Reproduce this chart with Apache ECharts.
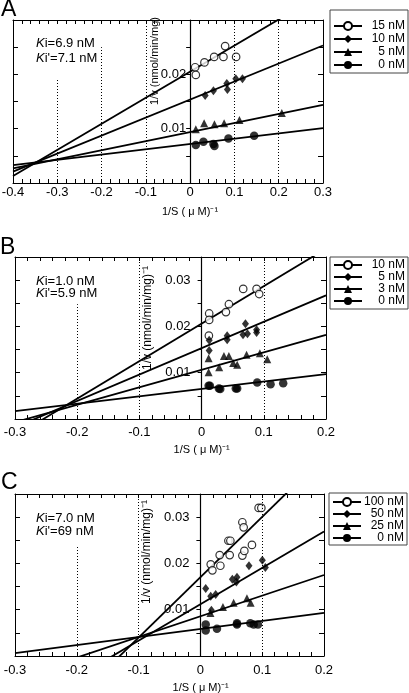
<!DOCTYPE html>
<html><head><meta charset="utf-8">
<script src="https://cdn.jsdelivr.net/npm/echarts@6/dist/echarts.min.js"></script>
<style>html,body{margin:0;padding:0;background:#fff}#c{width:409px;height:693px}</style>
</head><body><div id="c"></div><script>
// ---------- Panel A ----------
const A_names = ['15 nM', '10 nM', '5 nM', '0 nM'];
const A_pts_15 = [[0.0113,0.0213],[0.0128,0.0199],[0.0323,0.0222],[0.0542,0.0232],[0.0752,0.0232],[0.0790,0.0252],[0.1038,0.0232]];
const A_pts_10 = [[0.0339,0.0161],[0.0526,0.0170],[0.0828,0.0183],[0.0842,0.0172],[0.1031,0.0192],[0.1181,0.0192]];
const A_pts_5  = [[0.0128,0.0099],[0.0316,0.0110],[0.0549,0.0108],[0.0767,0.0110],[0.1113,0.0116],[0.2070,0.0129]];
const A_pts_0  = [[0.0128,0.0070],[0.0300,0.0076],[0.0526,0.0072],[0.0549,0.0068],[0.0865,0.0082],[0.1445,0.0087]];
const A_fit_15 = [[-0.4,0.0013],[0.3,0.0349]];
const A_fit_10 = [[-0.4,0.0021],[0.3,0.0253]];
const A_fit_5  = [[-0.4,0.0027],[0.3,0.0144]];
const A_fit_0  = [[-0.4,0.0033],[0.3,0.0101]];
const A_xTicks = ['-0.4','-0.3','-0.2','-0.1','0','0.1','0.2','0.3'];
const A_yTickVals = [0.01, 0.02];
const A_yTicks = ['0.01','0.02'];
const A_guideX = [-0.3, -0.2, -0.1, 0.1, 0.2];
const A_guideTop = [0.019, 0.025, 0.03, 0.03, 0.03];
const A_Ki = ['6.9 nM','7.1 nM'];

// ---------- Panel B ----------
const B_names = ['10 nM', '5 nM', '3 nM', '0 nM'];
const B_pts_10 = [[0.0122,0.0228],[0.0122,0.0214],[0.0117,0.0180],[0.0391,0.0231],[0.0439,0.0248],[0.0669,0.0281],[0.0884,0.0281],[0.0926,0.0270]];
const B_pts_5  = [[0.0122,0.0170],[0.0122,0.0148],[0.0411,0.0180],[0.0411,0.0171],[0.0705,0.0206],[0.0666,0.0182],[0.0737,0.0184],[0.0884,0.0193],[0.0884,0.0187]];
const B_pts_3  = [[0.0113,0.0131],[0.0113,0.0101],[0.0283,0.0112],[0.0359,0.0136],[0.0439,0.0136],[0.0508,0.0121],[0.0572,0.0117],[0.0723,0.0139],[0.0937,0.0142],[0.1055,0.0129]];
const B_pts_0  = [[0.0113,0.0072],[0.0133,0.0072],[0.0278,0.0066],[0.0300,0.0065],[0.0550,0.0066],[0.0572,0.0066],[0.0894,0.0079],[0.1109,0.0075],[0.1312,0.0077]];
const B_fit_10 = [[-0.3,-0.0037],[0.2,0.0368]];
const B_fit_5  = [[-0.3,-0.0018],[0.2,0.0267]];
const B_fit_3  = [[-0.3,-0.0007],[0.2,0.0182]];
const B_fit_0  = [[-0.3,0.0017],[0.2,0.0097]];
const B_xTicks = ['-0.3','-0.2','-0.1','0','0.1','0.2'];
const B_yTickVals = [0.01, 0.02, 0.03];
const B_yTicks = ['0.01','0.02','0.03'];
const B_guideX = [-0.2, -0.1, 0.1];
const B_guideTop = [0.0248, 0.035, 0.035];
const B_Ki = ['1.0 nM','5.9 nM'];

// ---------- Panel C ----------
const C_names = ['100 nM', '50 nM', '25 nM', '0 nM'];
const C_pts_100 = [[0.0167,0.0198],[0.0194,0.0185],[0.0312,0.0218],[0.0323,0.0195],[0.0453,0.0249],[0.0485,0.0249],[0.0474,0.0218],[0.0679,0.0289],[0.0700,0.0278],[0.0679,0.0217],[0.0711,0.0227],[0.0834,0.0240],[0.0942,0.0320],[0.0986,0.0320]];
const C_pts_50  = [[0.0086,0.0146],[0.0167,0.0129],[0.0178,0.0099],[0.0247,0.0133],[0.0517,0.0166],[0.0582,0.0160],[0.0592,0.0170],[0.0786,0.0195],[0.1002,0.0207],[0.1051,0.0191]];
const C_pts_25  = [[0.0162,0.0093],[0.0365,0.0106],[0.0538,0.0115],[0.0753,0.0125],[0.0813,0.0115]];
const C_pts_0   = [[0.0086,0.0068],[0.0086,0.0055],[0.0268,0.0059],[0.0592,0.0071],[0.0592,0.0068],[0.0808,0.0071],[0.0862,0.0068],[0.0931,0.0068]];
const C_fit_100 = [[-0.3,-0.0221],[0.2,0.0431]];
const C_fit_50  = [[-0.3,-0.0124],[0.2,0.0269]];
const C_fit_25  = [[-0.3,-0.0048],[0.2,0.0175]];
const C_fit_0   = [[-0.3,0.0006],[0.2,0.0093]];
const C_xTicks = ['-0.3','-0.2','-0.1','0','0.1','0.2'];
const C_yTickVals = [0.01, 0.02, 0.03];
const C_yTicks = ['0.01','0.02','0.03'];
const C_guideX = [-0.2, -0.1, 0.1];
const C_guideTop = [0.0236, 0.035, 0.035];
const C_Ki = ['7.0 nM','69 nM'];

const FONT = '"Liberation Sans", Arial, Helvetica, sans-serif';
const BLACK = '#000';

const panels = [
  {letter:'A', grid:{left:13, top:20, width:310, height:163}, xMin:-0.4, xMax:0.3, yMax:0.03,
   xTicks:A_xTicks, yTickVals:A_yTickVals, yTicks:A_yTicks, names:A_names,
   pts:[A_pts_15,A_pts_10,A_pts_5,A_pts_0], fits:[A_fit_15,A_fit_10,A_fit_5,A_fit_0],
   guideX:A_guideX, guideTop:A_guideTop, Ki:A_Ki,
   xLabelMargin:3, yLabelMargin:4,
   legend:{left:330, top:10, padding:[10,3,2,3], itemGap:1},
   letterPos:[1,10], kiPos:[36,43.3,58.3], yTitle:{x:155, y:61, size:11, text:'1/v (nmol/min/mg)'},
   xTitle:{x:190, y:211.5}},
  {letter:'B', grid:{left:15, top:257, width:311, height:162}, xMin:-0.3, xMax:0.2, yMax:0.035,
   xTicks:B_xTicks, yTickVals:B_yTickVals, yTicks:B_yTicks, names:B_names,
   pts:[B_pts_10,B_pts_5,B_pts_3,B_pts_0], fits:[B_fit_10,B_fit_5,B_fit_3,B_fit_0],
   guideX:B_guideX, guideTop:B_guideTop, Ki:B_Ki,
   xLabelMargin:7, yLabelMargin:11,
   legend:{left:330, top:257, padding:[2,3,2,3], itemGap:0},
   letterPos:[0,247.5], kiPos:[36,281,293], yTitle:{x:147.7, y:318, size:12, text:'1/v (nmol/min/mg)\u207B\u00B9'},
   xTitle:{x:201.7, y:449.5}},
  {letter:'C', grid:{left:15, top:494, width:309, height:162}, xMin:-0.3, xMax:0.2, yMax:0.035,
   xTicks:C_xTicks, yTickVals:C_yTickVals, yTicks:C_yTicks, names:C_names,
   pts:[C_pts_100,C_pts_50,C_pts_25,C_pts_0], fits:[C_fit_100,C_fit_50,C_fit_25,C_fit_0],
   guideX:C_guideX, guideTop:C_guideTop, Ki:C_Ki,
   xLabelMargin:8, yLabelMargin:11,
   legend:{left:329, top:493, padding:[3,3,1,3], itemGap:0},
   letterPos:[1,482.5], kiPos:[36,518.3,531], yTitle:{x:146.7, y:552, size:12, text:'1/v (nmol/min/mg)\u207B\u00B9'},
   xTitle:{x:200.7, y:687.5}}
];

// marker styles: open circle, diamond, triangle, filled circle
const SYM = [
  {legendSym:'emptyCircle', sym:'circle', size:7.5, item:{color:'#fff', borderColor:BLACK, borderWidth:1.2}},
  {legendSym:'diamond', sym:'diamond', size:[7,9], item:{color:BLACK}},
  {legendSym:'triangle', sym:'triangle', size:8, item:{color:BLACK}},
  {legendSym:'circle', sym:'circle', size:8.5, item:{color:BLACK}}
];

const option = {
  animation:false, backgroundColor:'#fff',
  textStyle:{fontFamily:FONT, color:BLACK},
  grid:[], xAxis:[], yAxis:[], series:[], legend:[], graphic:[]
};

panels.forEach((p, k) => {
  option.grid.push(Object.assign({containLabel:false, outerBoundsMode:'none'}, p.grid));
  const xFmt = v => p.xTicks[Math.round((v - p.xMin) / 0.1)] || '';
  const baseX = {
    type:'value', gridIndex:k, min:p.xMin, max:p.xMax, interval:0.1,
    axisLine:{show:true, onZero:false, lineStyle:{color:BLACK, width:1}},
    axisTick:{show:true, inside:true, length:4, lineStyle:{color:BLACK, width:1}},
    minorTick:{show:true, splitNumber:5, length:4, lineStyle:{color:BLACK, width:1}},
    splitLine:{show:false}, minorSplitLine:{show:false}
  };
  option.xAxis.push(Object.assign({}, baseX, {position:'bottom',
    axisLabel:{show:true, margin:p.xLabelMargin, color:BLACK, fontSize:13, fontFamily:FONT, formatter:xFmt}}));
  option.xAxis.push(Object.assign({}, baseX, {position:'top', axisLabel:{show:false}}));

  const baseY = {
    type:'value', gridIndex:k, min:0, max:p.yMax, interval:0.005,
    splitLine:{show:false}
  };
  option.yAxis.push(Object.assign({}, baseY, {position:'left',
    axisLine:{show:true, onZero:false, lineStyle:{color:BLACK, width:1}},
    axisTick:{show:true, inside:true, length:5, lineStyle:{color:BLACK}}, axisLabel:{show:false}}));
  option.yAxis.push(Object.assign({}, baseY, {position:'right',
    axisLine:{show:true, onZero:false, lineStyle:{color:BLACK, width:1}},
    axisTick:{show:true, inside:true, length:5, lineStyle:{color:BLACK}}, axisLabel:{show:false}}));
  // vertical axis drawn at x = 0 (shifted inward from the left edge)
  const zeroOffset = -((0 - p.xMin) / (p.xMax - p.xMin)) * p.grid.width;
  option.yAxis.push(Object.assign({}, baseY, {position:'left', offset:zeroOffset,
    axisLine:{show:true, onZero:false, lineStyle:{color:BLACK, width:1.2}},
    axisTick:{show:true, inside:false, length:4, lineStyle:{color:BLACK}},
    axisLabel:{show:true, margin:p.yLabelMargin, color:BLACK, fontSize:13, fontFamily:FONT,
      formatter: v => { const i = p.yTickVals.findIndex(t => Math.abs(t - v) < 1e-6); return i >= 0 ? p.yTicks[i] : ''; }}}));

  const suffix = '\u200B'.repeat(k);
  const xi = 2 * k, yi = 3 * k;
  p.fits.forEach((f, i) => {
    const s = {type:'line', name:p.names[i] + suffix, xAxisIndex:xi, yAxisIndex:yi, data:f,
      symbol:SYM[i].legendSym, symbolSize:8, showSymbol:false, clip:true, silent:true,
      lineStyle:{color:BLACK, width:1.8}, itemStyle:{color:BLACK}, z:2};
    if (i === 0) {
      s.markLine = {silent:true, symbol:['none','none'], label:{show:false},
        lineStyle:{color:BLACK, width:1, type:[1,2]},
        data: p.guideX.map((gx, j) => [{coord:[gx, 0]}, {coord:[gx, p.guideTop[j]]}])};
    }
    option.series.push(s);
  });
  p.pts.forEach((d, i) => {
    option.series.push({type:'scatter', name:p.names[i] + suffix, xAxisIndex:xi, yAxisIndex:yi, data:d,
      symbol:SYM[i].sym, symbolSize:SYM[i].size, itemStyle:SYM[i].item, silent:true, z:4});
  });

  option.legend.push({
    orient:'vertical', left:p.legend.left, top:p.legend.top, padding:p.legend.padding,
    itemGap:p.legend.itemGap, itemWidth:28, itemHeight:10, selectedMode:false,
    borderColor:'#444', borderWidth:1, backgroundColor:'#fff',
    data:p.names.map(n => n + suffix),
    formatter: n => '{t|' + n.replace(/\u200B/g, '') + '}',
    textStyle:{color:BLACK, fontSize:12, fontFamily:FONT,
      rich:{t:{width:38, align:'right', fontSize:12, lineHeight:12, fontFamily:FONT, color:BLACK}}}
  });

  option.graphic.push({type:'text', x:p.letterPos[0], y:p.letterPos[1], silent:true,
    style:{text:p.letter, fontSize:23, fontFamily:FONT, fill:BLACK, align:'left', verticalAlign:'middle'}});
  const kiRich = {k:{fontStyle:'italic', fontSize:13, fontFamily:FONT, fill:BLACK, color:BLACK},
                  n:{fontSize:13, fontFamily:FONT, fill:BLACK, color:BLACK}};
  option.graphic.push({type:'text', x:p.kiPos[0], y:p.kiPos[1], silent:true,
    style:{text:'{k|K}{n|i=' + p.Ki[0] + '}', rich:kiRich, fontSize:13, fontFamily:FONT, fill:BLACK, align:'left', verticalAlign:'middle'}});
  option.graphic.push({type:'text', x:p.kiPos[0], y:p.kiPos[2], silent:true,
    style:{text:"{k|K}{n|i'=" + p.Ki[1] + '}', rich:kiRich, fontSize:13, fontFamily:FONT, fill:BLACK, align:'left', verticalAlign:'middle'}});
  option.graphic.push({type:'text', x:p.yTitle.x, y:p.yTitle.y, rotation:Math.PI/2, silent:true,
    style:{text:p.yTitle.text, fontSize:p.yTitle.size, fontFamily:FONT, fill:BLACK, align:'center', verticalAlign:'middle'}});
  option.graphic.push({type:'text', x:p.xTitle.x, y:p.xTitle.y, silent:true,
    style:{text:'1/S ( \u03BC M)\u207B\u00B9', fontSize:11, fontFamily:FONT, fill:BLACK, align:'center', verticalAlign:'middle'}});
});

const chart = echarts.init(document.getElementById('c'), null, {renderer:'canvas'});
chart.setOption(option);
</script></body></html>
